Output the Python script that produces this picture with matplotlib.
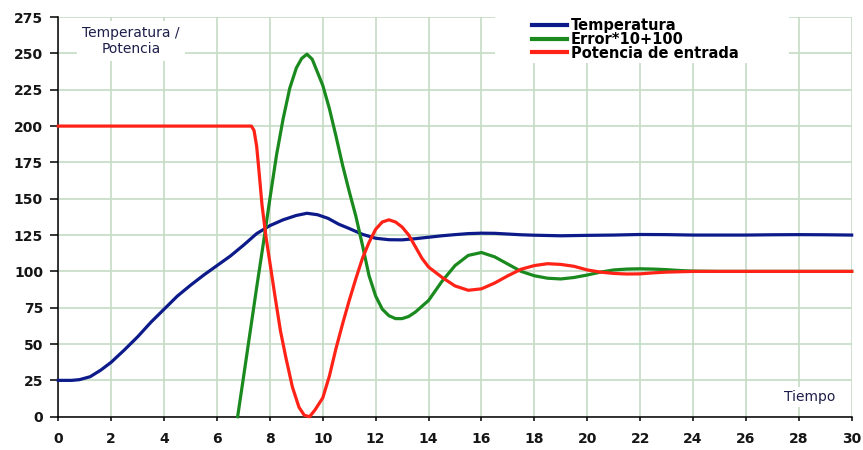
# %%
import matplotlib.pyplot as plt
from matplotlib.patches import Rectangle

# values
temp_t = [0, 0.5, 0.8, 1.2, 1.6, 2, 2.5, 3, 3.5, 4, 4.5, 5, 5.5, 6, 6.5, 7, 7.5, 8, 8.5, 9, 9.4, 9.8,
          10.2, 10.6, 11, 11.5, 12, 12.5, 13, 13.5, 14, 14.5, 15, 15.5, 16, 16.5, 17, 17.5, 18, 19, 20,
          21, 22, 23, 24, 25, 26, 27, 28, 29, 30]
temp = [25, 25, 25.5, 27.5, 32, 37.5, 46, 55, 65, 74, 83, 90.5, 97.5, 104, 110.5, 118, 126, 131.5,
        135.5, 138.5, 140, 139, 136.5, 132.5, 129.5, 125.5, 122.8, 121.8, 121.7, 122.5, 123.5, 124.5,
        125.3, 126, 126.3, 126.2, 125.7, 125.2, 124.9, 124.5, 124.8, 125, 125.4, 125.3, 125, 125, 125,
        125.2, 125.3, 125.2, 125]

error_t = [6.78, 7.0, 7.25, 7.5, 7.75, 8.0, 8.25, 8.5, 8.75, 9.0, 9.2, 9.4, 9.6, 9.8, 10.0, 10.25, 10.5,
           10.75, 11.0, 11.25, 11.5, 11.75, 12.0, 12.25, 12.5, 12.75, 13.0, 13.25, 13.5, 13.75, 14.0,
           14.5, 15.0, 15.5, 16.0, 16.5, 17.0, 17.5, 18.0, 18.5, 19.0, 19.5, 20.0, 20.5, 21.0, 21.5,
           22.0, 22.5, 23.0, 23.5, 24.0, 25.0, 30]
error = [0, 27, 58, 89, 119, 150, 180, 205, 226, 240, 246.5, 249.5, 246, 237, 228, 212, 193, 173, 155,
         138, 118, 97, 83, 74, 69.5, 67.5, 67.5, 69, 72, 76, 80, 93, 104, 111, 113, 110, 105, 100, 97,
         95.3, 94.8, 95.8, 97.5, 99.5, 101, 101.6, 101.8, 101.6, 101.2, 100.6, 100.2, 100, 100]

power_t = [0, 7.3, 7.4, 7.5, 7.6, 7.7, 7.85, 8.0, 8.2, 8.4, 8.6, 8.85, 9.1, 9.3, 9.5, 9.7, 10.0, 10.25,
           10.5, 10.75, 11.0, 11.25, 11.5, 11.75, 12.0, 12.25, 12.5, 12.75, 13.0, 13.25, 13.5, 13.75,
           14.0, 14.5, 15.0, 15.5, 16.0, 16.5, 17.0, 17.5, 18.0, 18.5, 19.0, 19.5, 20.0, 20.5, 21.0,
           21.5, 22.0, 22.5, 23.0, 24.0, 30]
power = [200, 200, 197, 186, 166.5, 146, 124, 106, 82, 59, 41, 20.5, 6.5, 1, 0, 4.5, 13, 28, 47, 64, 80,
         95, 109, 120, 129, 134, 135.5, 134, 130.5, 125, 117, 109, 103, 96, 90, 87, 88, 92, 97, 101.5,
         104, 105.3, 104.8, 103.5, 101, 99.5, 98.6, 98.2, 98.3, 99, 99.5, 100, 100]

labels = ['Temperatura', 'Error*10+100', 'Potencia de entrada']
colors = ['#0c1a8a', '#1a8a1e', '#ff2216']
x_ticks = list(range(0, 31, 2))
y_ticks = list(range(0, 276, 25))

# %%
fig = plt.figure(figsize=(8.63, 4.5), dpi=100)
ax = fig.add_axes([0.0676, 0.074, 0.9193, 0.888])

for t, v, lab, col in zip([temp_t, error_t, power_t], [temp, error, power], labels, colors):
    ax.plot(t, v, color=col, lw=2.3, label=lab, clip_on=False, zorder=3)

ax.set_xlim(0, 30)
ax.set_ylim(0, 275)
ax.set_xticks(x_ticks)
ax.set_yticks(y_ticks)
ax.grid(True, color='#c5dcc5', lw=1.2)
ax.set_axisbelow(True)

# axes look
for side in ['top', 'right']:
    ax.spines[side].set_visible(False)
for side in ['left', 'bottom']:
    ax.spines[side].set_linewidth(1.1)
ax.tick_params(axis='x', direction='out', length=3, width=1.1, pad=8)
ax.tick_params(axis='y', direction='out', length=6, width=1.1, pad=5)
for lbl in ax.get_xticklabels() + ax.get_yticklabels():
    lbl.set_fontweight('bold')
    lbl.set_fontsize(10)
    lbl.set_color('#151515')

# white patch behind legend, hides the grid there
ax.add_patch(Rectangle((0.5504, 0.885), 0.37, 0.12, transform=ax.transAxes, facecolor='white',
                       edgecolor='none', zorder=1.5, clip_on=False))
leg = ax.legend(loc='upper left', bbox_to_anchor=(0.597, 0.998), frameon=False, borderpad=0,
                borderaxespad=0, handlelength=2.4, handletextpad=0.25, labelspacing=-0.08,
                prop={'weight': 'bold', 'size': 10.5})
for line in leg.get_lines():
    line.set_linewidth(3)

# axis captions
ax.text(0.0917, 0.94, 'Temperatura /\nPotencia', transform=ax.transAxes, ha='center', va='center',
        fontsize=10, color='#1e1e4a', linespacing=1.15,
        bbox=dict(facecolor='white', edgecolor='none', pad=4), zorder=2)
ax.text(0.947, 0.049, 'Tiempo', transform=ax.transAxes, ha='center', va='center', fontsize=10,
        color='#1e1e4a', bbox=dict(facecolor='white', edgecolor='none', pad=2), zorder=2)

fig.savefig('out.png', dpi=100)
